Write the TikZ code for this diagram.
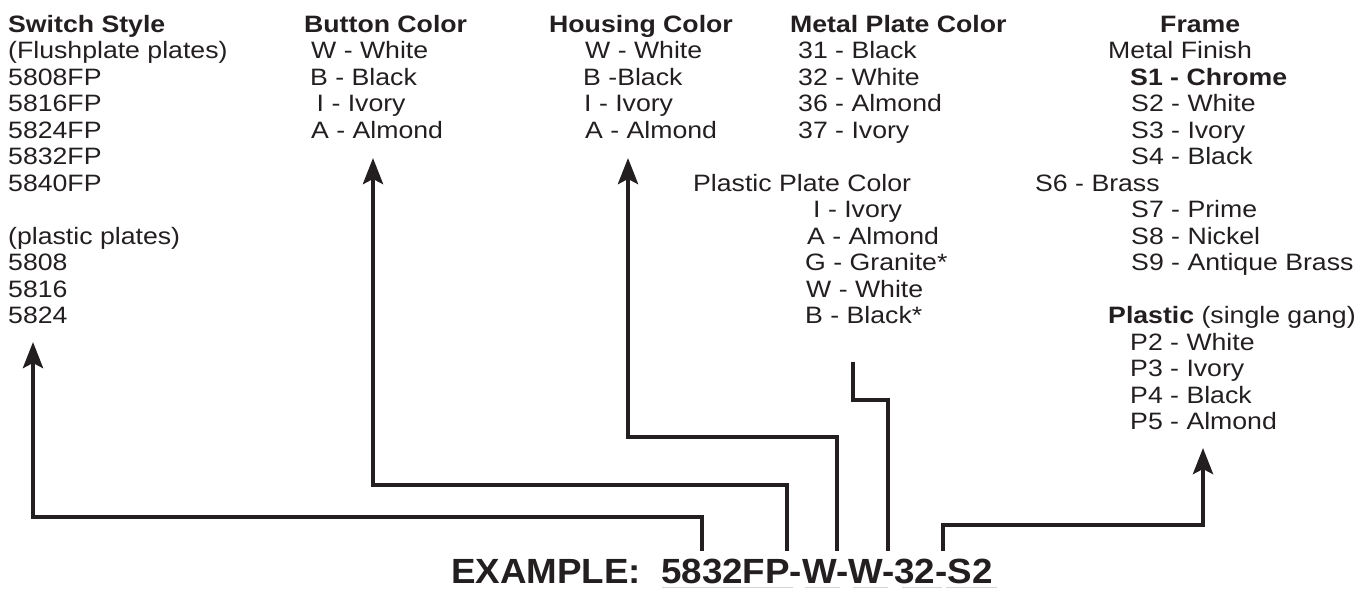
\documentclass[tikz,border=0pt]{standalone}
\usepackage{fontspec}
\setmainfont{Liberation Sans}[FakeStretch=1.125]
\newfontfamily\exfont{Liberation Sans}[FakeStretch=1.05]
\usetikzlibrary{arrows.meta}
\definecolor{ink}{HTML}{231F20}
\definecolor{uline}{HTML}{D4D4D4}
\tikzset{
  txt/.style={anchor=base west, inner sep=0pt, text=ink, font=\fontsize{23.7}{26}\selectfont},
  hd/.style={txt, font=\fontsize{23.7}{26}\selectfont\bfseries},
  extxt/.style={anchor=base west, inner sep=0pt, text=ink, font=\exfont\fontsize{35}{40}\selectfont\bfseries},
  conn/.style={draw=ink, line width=4.3pt, line join=miter},
  tipped/.style={-{Stealth[length=26pt,width=20pt,inset=5pt]}},
  uln/.style={draw=uline, line width=1pt}
}
\newcommand\Ln[5][txt]{\node[#1] (#2) at (#3,{32+26.5*#4}) {#5};}
\begin{document}
\begin{tikzpicture}[x=1pt,y=-1pt]
\useasboundingbox (0,0) rectangle (1367,589);
% Switch style
\Ln[hd]{sw0}{8}{0}{Switch Style}
\Ln{sw1}{8}{1}{(Flushplate plates)}
\Ln{sw2}{8}{2}{5808FP}
\Ln{sw3}{8}{3}{5816FP}
\Ln{sw4}{8}{4}{5824FP}
\Ln{sw5}{8}{5}{5832FP}
\Ln{sw6}{8}{6}{5840FP}
\Ln{sw8}{8}{8}{(plastic plates)}
\Ln{sw9}{8}{9}{5808}
\Ln{sw10}{8}{10}{5816}
\Ln{sw11}{8}{11}{5824}
% Button color
\Ln[hd]{bt0}{304}{0}{Button Color}
\Ln{bt1}{311}{1}{W - White}
\Ln{bt2}{310}{2}{B - Black}
\Ln{bt3}{316.5}{3}{I - Ivory}
\Ln{bt4}{311}{4}{A - Almond}
% Housing color
\Ln[hd]{hs0}{549}{0}{Housing Color}
\Ln{hs1}{585}{1}{W - White}
\Ln{hs2}{583}{2}{B -Black}
\Ln{hs3}{584}{3}{I - Ivory}
\Ln{hs4}{585}{4}{A - Almond}
% Metal plate color
\Ln[hd]{mp0}{790}{0}{Metal Plate Color}
\Ln{mp1}{798}{1}{31 - Black}
\Ln{mp2}{798}{2}{32 - White}
\Ln{mp3}{798}{3}{36 - Almond}
\Ln{mp4}{798}{4}{37 - Ivory}
% Plastic plate color
\Ln{pp0}{693}{6}{Plastic Plate Color}
\Ln{pp1}{813}{7}{I - Ivory}
\Ln{pp2}{807}{8}{A - Almond}
\Ln{pp3}{805}{9}{G - Granite*}
\Ln{pp4}{806}{10}{W - White}
\Ln{pp5}{805}{11}{B - Black*}
% Frame
\Ln[hd]{fr0}{1160}{0}{Frame}
\Ln{fr1}{1108}{1}{Metal Finish}
\Ln[hd]{fr2}{1130}{2}{S1 - Chrome}
\Ln{fr3}{1131}{3}{S2 - White}
\Ln{fr4}{1131}{4}{S3 - Ivory}
\Ln{fr5}{1131}{5}{S4 - Black}
\Ln{fr6}{1035}{6}{S6 - Brass}
\Ln{fr7}{1131}{7}{S7 - Prime}
\Ln{fr8}{1131}{8}{S8 - Nickel}
\Ln{fr9}{1131}{9}{S9 - Antique Brass}
\Ln{fr11}{1108}{11}{\textbf{Plastic} (single gang)}
\Ln{fr12}{1130}{12}{P2 - White}
\Ln{fr13}{1130}{13}{P3 - Ivory}
\Ln{fr14}{1130}{14}{P4 - Black}
\Ln{fr15}{1130}{15}{P5 - Almond}
% Example
\node[extxt] (exl) at (451,583) {EXAMPLE:};
\node[extxt] (code) at (661,583) {5832FP-W-W-32-S2};
\draw[uln] (662,587.5) -- (793,587.5);
\draw[uln] (805,587.5) -- (840,587.5);
\draw[uln] (853,587.5) -- (888,587.5);
\draw[uln] (902,587.5) -- (942,587.5);
\draw[uln] (946,587.5) -- (997,587.5);
% connector end points
\coordinate (e1) at (702,551);
\coordinate (e2) at (787,551);
\coordinate (e3) at (837,551);
\coordinate (e4) at (888,551);
\coordinate (e5) at (943,551);
\coordinate (t1) at (33,342);
\coordinate (t2) at (373,158);
\coordinate (t3) at (628,158);
\coordinate (t4) at (853,362);
\coordinate (t5) at (1203,448);
\coordinate (k1) at (702,517);
\coordinate (k2) at (787,485);
\coordinate (k3) at (837,437);
\coordinate (k4) at (888,400);
\coordinate (k5) at (943,525);
% connectors
\draw[conn,tipped] (e1) -- (k1) -| (t1);
\draw[conn,tipped] (e2) -- (k2) -| (t2);
\draw[conn,tipped] (e3) -- (k3) -| (t3);
\draw[conn] (e4) -- (k4) -| (t4);
\draw[conn,tipped] (e5) -- (k5) -| (t5);
\end{tikzpicture}
\end{document}
